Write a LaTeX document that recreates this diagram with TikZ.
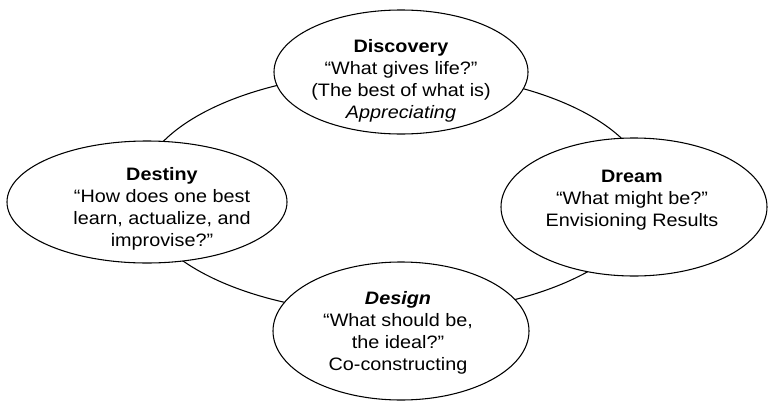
\documentclass[tikz,border=0pt]{standalone}
\usepackage{fontspec}
\setmainfont{Liberation Sans}
\usetikzlibrary{shapes.geometric}
\begin{document}
\begin{tikzpicture}[x=0.75pt,y=-0.75pt,
		phase/.style={draw,ellipse,fill=white,line width=0.8pt,inner sep=0pt},
		phasetext/.style={align=center,font=\fontsize{13.5}{16.5}\selectfont,xscale=1.1,transform shape}]
		\useasboundingbox (0,0) rectangle (768,404);
		% the cycle behind the four phases
		\draw[line width=0.8pt] (394,193) ellipse[x radius=255,y radius=121];
		\node[phase,minimum width=190.5pt,minimum height=93pt] (discovery) at(401,72){};
		\node[phase,minimum width=210pt,minimum height=91.5pt] (destiny) at(147,202){};
		\node[phase,minimum width=199.5pt,minimum height=103.5pt] (dream) at(634,207){};
		\node[phase,minimum width=192pt,minimum height=103.5pt] (design) at(401,331){};
		\node[phasetext] (discoverytext) at(401,81){\textbf{Discovery}\\“What gives life?”\\(The best of what is)\\\textit{Appreciating}};
		\node[phasetext] (destinytext) at(162,209){\textbf{Destiny}\\“How does one best\\learn, actualize, and\\improvise?”};
		\node[phasetext] (dreamtext) at(632,200){\textbf{Dream}\\“What might be?”\\Envisioning Results};
		\node[phasetext] (designtext) at(398,333){\textbf{\textit{Design}}\\“What should be,\\the ideal?”\\Co-constructing};
	\end{tikzpicture}
\end{document}
